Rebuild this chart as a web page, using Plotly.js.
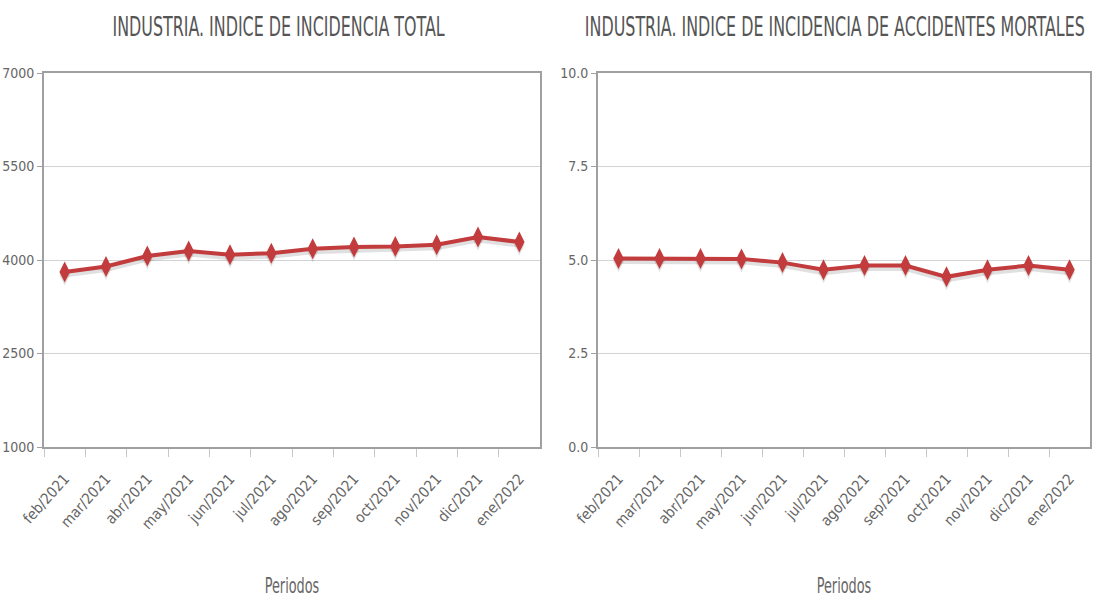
<!DOCTYPE html>
<html>
<head>
<meta charset="utf-8">
<script src="https://cdn.plot.ly/plotly-3.0.1.min.js"></script>
<style>
html,body{margin:0;padding:0;background:#fff;}
#chart{width:1095px;height:602px;}
#chart text{font-stretch:condensed !important;}
#chart .annotation-text, #chart .xtitle, #chart .x2title{
  transform-box: fill-box; transform-origin: center; transform: scaleX(0.68);
}
</style>
</head>
<body>
<div id="chart"></div>
<script>
const periodos = ["feb/2021","mar/2021","abr/2021","may/2021","jun/2021","jul/2021","ago/2021","sep/2021","oct/2021","nov/2021","dic/2021","ene/2022"];
const incidenciaTotal = [3808, 3897, 4064, 4144, 4085, 4110, 4181, 4208, 4218, 4245, 4369, 4289];
const incidenciaMortales = [5.04, 5.04, 5.04, 5.03, 4.93, 4.74, 4.85, 4.85, 4.55, 4.74, 4.85, 4.74];
const tituloTotal = "INDUSTRIA. INDICE DE INCIDENCIA TOTAL";
const tituloMortales = "INDUSTRIA. INDICE DE INCIDENCIA DE ACCIDENTES MORTALES";
const tituloX = "Periodos";

const FONT = "'DejaVu Sans Condensed', 'DejaVu Sans', sans-serif";
const RED = "#c23b3d";
const SHADOW = "rgba(0,0,0,0.12)";

const lineStyle = {color: RED, width: 4};
const markerStyle = {symbol: "diamond-tall", size: 15, color: RED};
const shadowLine = {color: SHADOW, width: 5};
const shadowMarker = {symbol: "diamond-tall", size: 15, color: SHADOW};

const traces = [
  {x: periodos, y: incidenciaTotal, xaxis: "x", yaxis: "y", type: "scatter", mode: "lines+markers",
   line: shadowLine, marker: shadowMarker, hoverinfo: "skip"},
  {x: periodos, y: incidenciaMortales, xaxis: "x2", yaxis: "y2", type: "scatter", mode: "lines+markers",
   line: shadowLine, marker: shadowMarker, hoverinfo: "skip"},
  {x: periodos, y: incidenciaTotal, xaxis: "x", yaxis: "y3", type: "scatter", mode: "lines+markers",
   line: lineStyle, marker: markerStyle, hoverinfo: "x+y"},
  {x: periodos, y: incidenciaMortales, xaxis: "x2", yaxis: "y4", type: "scatter", mode: "lines+markers",
   line: lineStyle, marker: markerStyle, hoverinfo: "x+y"}
];

function xAxis(domain, anchor) {
  return {
    domain: domain, anchor: anchor, type: "category", range: [-0.5, 11.5],
    showline: true, linecolor: "#a0a0a0", linewidth: 2, mirror: true,
    ticks: "outside", tickson: "boundaries", ticklen: 8, tickcolor: "#c8c8c8", tickwidth: 1,
    tickangle: -48, ticklabelstandoff: 15, tickfont: {family: FONT, size: 15, color: "#666"},
    showgrid: false, zeroline: false,
    title: {text: tituloX, font: {family: FONT, size: 21, color: "#666"}, standoff: 46}
  };
}
function yAxis(over, anchor, range, dtick, fmt) {
  return {
    overlaying: over, anchor: anchor, side: "left", range: range, dtick: dtick, tick0: range[0], tickformat: fmt,
    showline: true, linecolor: "#a0a0a0", linewidth: 2, mirror: true,
    ticks: "outside", ticklen: 5, tickcolor: "#a0a0a0",
    tickfont: {family: FONT, size: 14, color: "#666"},
    showgrid: true, gridcolor: "#d3d3d3", gridwidth: 1, zeroline: false
  };
}
function shadowAxis(domain, anchor, range, px) {
  const shift = (range[1] - range[0]) * px / 374;
  return {domain: domain, anchor: anchor, range: [range[0] + shift, range[1] + shift],
          visible: false, showgrid: false, zeroline: false};
}

const yd = [1 - 447/602, 1 - 73/602];
const rangeTotal = [1000, 7000];
const rangeMortales = [0, 10];
const layout = {
  width: 1095, height: 602,
  margin: {l: 0, r: 0, t: 0, b: 0},
  paper_bgcolor: "#fff", plot_bgcolor: "#fff",
  showlegend: false,
  xaxis: xAxis([44/1095, 540/1095], "y"),
  xaxis2: xAxis([598/1095, 1090/1095], "y2"),
  yaxis: shadowAxis(yd, "x", rangeTotal, 3),
  yaxis2: shadowAxis(yd, "x2", rangeMortales, 3),
  yaxis3: yAxis("y", "x", rangeTotal, 1500, "d"),
  yaxis4: yAxis("y2", "x2", rangeMortales, 2.5, ".1f"),
  annotations: [
    {text: tituloTotal, xref: "paper", yref: "paper", x: 278/1095, y: 1 - 27/602, xanchor: "center", yanchor: "middle",
     showarrow: false, font: {family: FONT, size: 26, color: "#555"}},
    {text: tituloMortales, xref: "paper", yref: "paper", x: 835/1095, y: 1 - 27/602, xanchor: "center", yanchor: "middle",
     showarrow: false, font: {family: FONT, size: 26, color: "#555"}}
  ]
};

Plotly.newPlot("chart", traces, layout, {displayModeBar: false});
</script>
</body>
</html>
